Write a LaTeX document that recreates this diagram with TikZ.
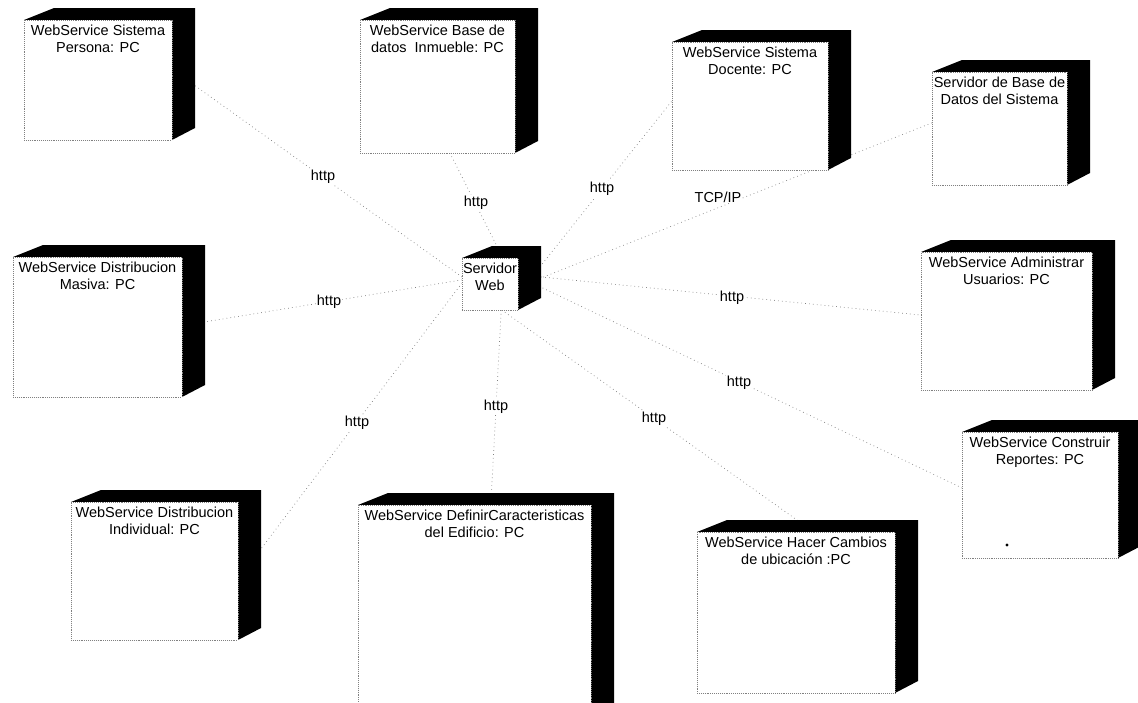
\documentclass[tikz,border=0pt]{standalone}
\usepackage{fontspec}
\setmainfont{Liberation Sans}
\usetikzlibrary{calc}
\pgfdeclarelayer{background}
\pgfsetlayers{background,main}

\tikzset{
  nodeface/.style={draw=black!50, line width=0.5pt, dash pattern=on 0.7pt off 1.2pt,
    fill=white, inner sep=0pt, outer sep=0pt, anchor=north west},
  nodeshade/.style={fill=black},
  nodetext/.style={anchor=north, align=center, inner sep=2pt,
    font=\fontsize{14.5}{17}\selectfont},
  link/.style={draw=black!50, line width=0.7pt, dash pattern=on 0.7pt off 3.2pt},
  linklabel/.style={fill=white, inner sep=1pt, font=\fontsize{14.5}{17}\selectfont},
}

% 3D deployment node: name, left, top, right, bottom (front face), caption
\newcommand{\deploynode}[6]{%
  \fill[nodeshade] (#2,#3) -- (#2+30,#3-12) -- (#4+23,#3-12) -- (#4+23,#5-12)
    -- (#4,#5) -- (#4,#3) -- cycle;
  \node[nodeface, minimum width=#4-#2, minimum height=#5-#3] (#1) at (#2,#3) {};
  \node[nodetext] (#1-name) at ($(#1.north)+(0,2.5)$) {#6};
}

\begin{document}
\begin{tikzpicture}[x=1pt,y=-1pt]
\useasboundingbox (0,0) rectangle (1138,702);
\clip (0,0) rectangle (1138,702);

% nodes
\deploynode{persona}{24}{20}{172}{140}{WebService Sistema\\Persona: PC}
\deploynode{inmueble}{360}{20}{515}{153}{WebService Base de\\datos\ \ Inmueble: PC}
\deploynode{docente}{672}{42}{828}{170}{WebService Sistema\\Docente: PC}
\deploynode{basedatos}{932}{72}{1067}{185}{Servidor de Base de\\Datos del Sistema}
\deploynode{srv}{462}{258}{518}{310}{Servidor\\Web}
\deploynode{masiva}{13}{257}{182}{397}{WebService Distribucion\\Masiva: PC}
\deploynode{usuarios}{921}{252}{1092}{390}{WebService Administrar\\Usuarios: PC}
\deploynode{reportes}{962}{432}{1118}{558}{WebService Construir\\Reportes: PC}
\deploynode{individual}{71}{502}{238}{640}{WebService Distribucion\\Individual: PC}
\deploynode{edificio}{358}{505}{591}{715}{WebService DefinirCaracteristicas\\del Edificio: PC}
\deploynode{cambios}{697}{532}{895}{693}{WebService Hacer Cambios\\de ubicación :PC}

\fill[black] (1007,545) circle[radius=1.6];

% connections, drawn behind the nodes
\begin{pgfonlayer}{background}
\fill[white] (0,0) rectangle (1138,702);
\draw[link] ($(srv.north west)!0.365!(srv.south west)$) -- ($(persona.north east)!0.41!(persona.south east)$);
\draw[link] ($(srv.north west)!0.73!(srv.north east)$) -- ($(inmueble.south west)!0.58!(inmueble.south east)$);
\draw[link] ($(srv.north east)!0.70!(srv.south east)$) -- ($(docente.north west)!0.46!(docente.south west)$);
\draw[link] ($(srv.north east)!0.56!(srv.south east)$) -- ($(basedatos.north west)!0.45!(basedatos.south west)$);
\draw[link] ($(srv.north east)!0.32!(srv.south east)$) -- ($(usuarios.north west)!0.457!(usuarios.south west)$);
\draw[link] ($(srv.north east)!0.35!(srv.south east)$) -- ($(reportes.north west)!0.444!(reportes.south west)$);
\draw[link] ($(srv.south west)!0.71!(srv.south east)$) -- ($(cambios.north west)!0.59!(cambios.north east)$);
\draw[link] ($(srv.south west)!0.70!(srv.south east)$) -- ($(edificio.north west)!0.57!(edificio.north east)$);
\draw[link] ($(srv.north west)!0.48!(srv.south west)$) -- ($(individual.north east)!0.56!(individual.south east)$);
\draw[link] ($(srv.north west)!0.42!(srv.south west)$) -- ($(masiva.north east)!0.49!(masiva.south east)$);
\end{pgfonlayer}

% connection labels
\node[linklabel] (l-persona) at (323,177) {http};
\node[linklabel] (l-inmueble) at (476,203) {http};
\node[linklabel] (l-docente) at (602,189) {http};
\node[linklabel] (l-basedatos) at (718,197) {TCP/IP};
\node[linklabel] (l-usuarios) at (732,298) {http};
\node[linklabel] (l-reportes) at (739,383) {http};
\node[linklabel] (l-cambios) at (654,419) {http};
\node[linklabel] (l-edificio) at (496,407) {http};
\node[linklabel] (l-individual) at (357,423) {http};
\node[linklabel] (l-masiva) at (329,302) {http};
\end{tikzpicture}
\end{document}
